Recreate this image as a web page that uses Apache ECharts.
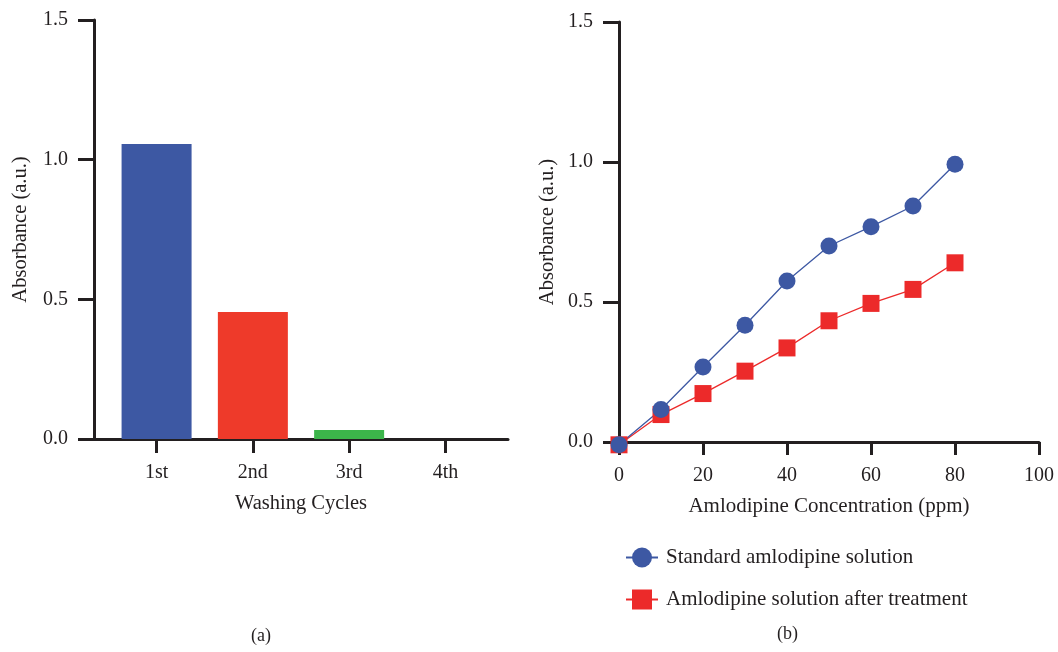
<!DOCTYPE html>
<html>
<head>
<meta charset="utf-8">
<script src="https://cdn.jsdelivr.net/npm/echarts@6/dist/echarts.min.js"></script>
<style>
  html, body { margin: 0; padding: 0; background: #fff; }
  #main { width: 1058px; height: 652px; }
</style>
</head>
<body>
<div id="main"></div>
<script>
// panel (a): washing cycles
var cycles = ['1st', '2nd', '3rd', '4th'];
var cyclePos = [1, 2, 3, 4];
var washAbs = [1.056, 0.455, 0.032, 0];
var barColors = ['#3d58a3', '#ee3a2a', '#3cb54a', '#3cb54a'];

// panel (b): concentration
var conc = [0, 10, 20, 30, 40, 50, 60, 70, 80];
var standardAbs = [-0.01, 0.116, 0.268, 0.417, 0.575, 0.700, 0.769, 0.843, 0.992];
var treatedAbs = [-0.01, 0.098, 0.173, 0.253, 0.336, 0.433, 0.495, 0.545, 0.640];

var ink = '#231f20';
var font = "'Liberation Serif', 'Times New Roman', serif";

function pairs(xs, ys) {
  return xs.map(function (x, i) { return [x, ys[i]]; });
}

var axisLineStyle = { show: true, lineStyle: { color: ink, width: 3 } };

var chart = echarts.init(document.getElementById('main'));
var option = {
  animation: false,
  textStyle: { fontFamily: font, color: ink },
  title: [
    { text: '(a)', left: 246, top: 622, textStyle: { fontFamily: font, fontSize: 18, fontWeight: 'normal', color: ink } },
    { text: '(b)', left: 772, top: 620, textStyle: { fontFamily: font, fontSize: 18, fontWeight: 'normal', color: ink } }
  ],
  legend: {
    orient: 'vertical',
    left: 625,
    top: 547,
    padding: 0,
    itemWidth: 32,
    itemHeight: 25,
    itemGap: 21,
    data: ['Standard amlodipine solution', 'Amlodipine solution after treatment'],
    textStyle: { fontFamily: font, fontSize: 21, color: ink, padding: [0, 0, 0, 3] }
  },
  grid: [
    { left: 94, top: 20, width: 414, height: 419 },
    { left: 619, top: 22, width: 420, height: 420 }
  ],
  xAxis: [
    {
      gridIndex: 0,
      type: 'value',
      min: 0.35,
      max: 4.65,
      name: 'Washing Cycles',
      nameLocation: 'middle',
      nameGap: 54,
      nameTextStyle: { fontFamily: font, fontSize: 20.5, color: ink },
      axisLine: axisLineStyle,
      axisTick: { show: true, length: 14, customValues: cyclePos, lineStyle: { color: ink, width: 3 } },
      axisLabel: {
        customValues: cyclePos,
        margin: 24,
        fontFamily: font, fontSize: 20, color: ink,
        formatter: function (v) { return cycles[cyclePos.indexOf(v)] || ''; }
      },
      splitLine: { show: false }
    },
    {
      gridIndex: 1,
      type: 'value',
      min: 0,
      max: 100,
      interval: 20,
      name: 'Amlodipine Concentration (ppm)',
      nameLocation: 'middle',
      nameGap: 54,
      nameTextStyle: { fontFamily: font, fontSize: 21, color: ink },
      axisLine: axisLineStyle,
      axisTick: { show: true, length: 13, lineStyle: { color: ink, width: 3 } },
      axisLabel: { margin: 24, fontFamily: font, fontSize: 20, color: ink },
      splitLine: { show: false }
    }
  ],
  yAxis: [
    {
      gridIndex: 0,
      type: 'value',
      min: 0,
      max: 1.5,
      interval: 0.5,
      name: 'Absorbance (a.u.)',
      nameLocation: 'middle',
      nameGap: 63,
      nameTextStyle: { fontFamily: font, fontSize: 20.5, color: ink },
      axisLine: axisLineStyle,
      axisTick: { show: true, length: 16, lineStyle: { color: ink, width: 3 } },
      axisLabel: { margin: 26, fontFamily: font, fontSize: 20, color: ink, formatter: function (v) { return v.toFixed(1); } },
      splitLine: { show: false }
    },
    {
      gridIndex: 1,
      type: 'value',
      min: 0,
      max: 1.5,
      interval: 0.5,
      name: 'Absorbance (a.u.)',
      nameLocation: 'middle',
      nameGap: 61,
      nameTextStyle: { fontFamily: font, fontSize: 20.5, color: ink },
      axisLine: axisLineStyle,
      axisTick: { show: true, length: 16, lineStyle: { color: ink, width: 3 } },
      axisLabel: { margin: 26, fontFamily: font, fontSize: 20, color: ink, formatter: function (v) { return v.toFixed(1); } },
      splitLine: { show: false }
    }
  ],
  series: [
    {
      type: 'bar',
      xAxisIndex: 0,
      yAxisIndex: 0,
      barWidth: 70,
      data: cyclePos.map(function (x, i) {
        return { value: [x, washAbs[i]], itemStyle: { color: barColors[i] } };
      })
    },
    {
      name: 'Amlodipine solution after treatment',
      type: 'line',
      xAxisIndex: 1,
      yAxisIndex: 1,
      clip: false,
      symbol: 'rect',
      symbolSize: 17,
      itemStyle: { color: '#ec2a2a' },
      lineStyle: { color: '#ec2a2a', width: 1.3 },
      data: pairs(conc, treatedAbs)
    },
    {
      name: 'Standard amlodipine solution',
      type: 'line',
      xAxisIndex: 1,
      yAxisIndex: 1,
      clip: false,
      symbol: 'circle',
      symbolSize: 17,
      itemStyle: { color: '#3d58a3' },
      lineStyle: { color: '#3d58a3', width: 1.3 },
      data: pairs(conc, standardAbs)
    }
  ]
};
chart.setOption(option);
</script>
</body>
</html>
